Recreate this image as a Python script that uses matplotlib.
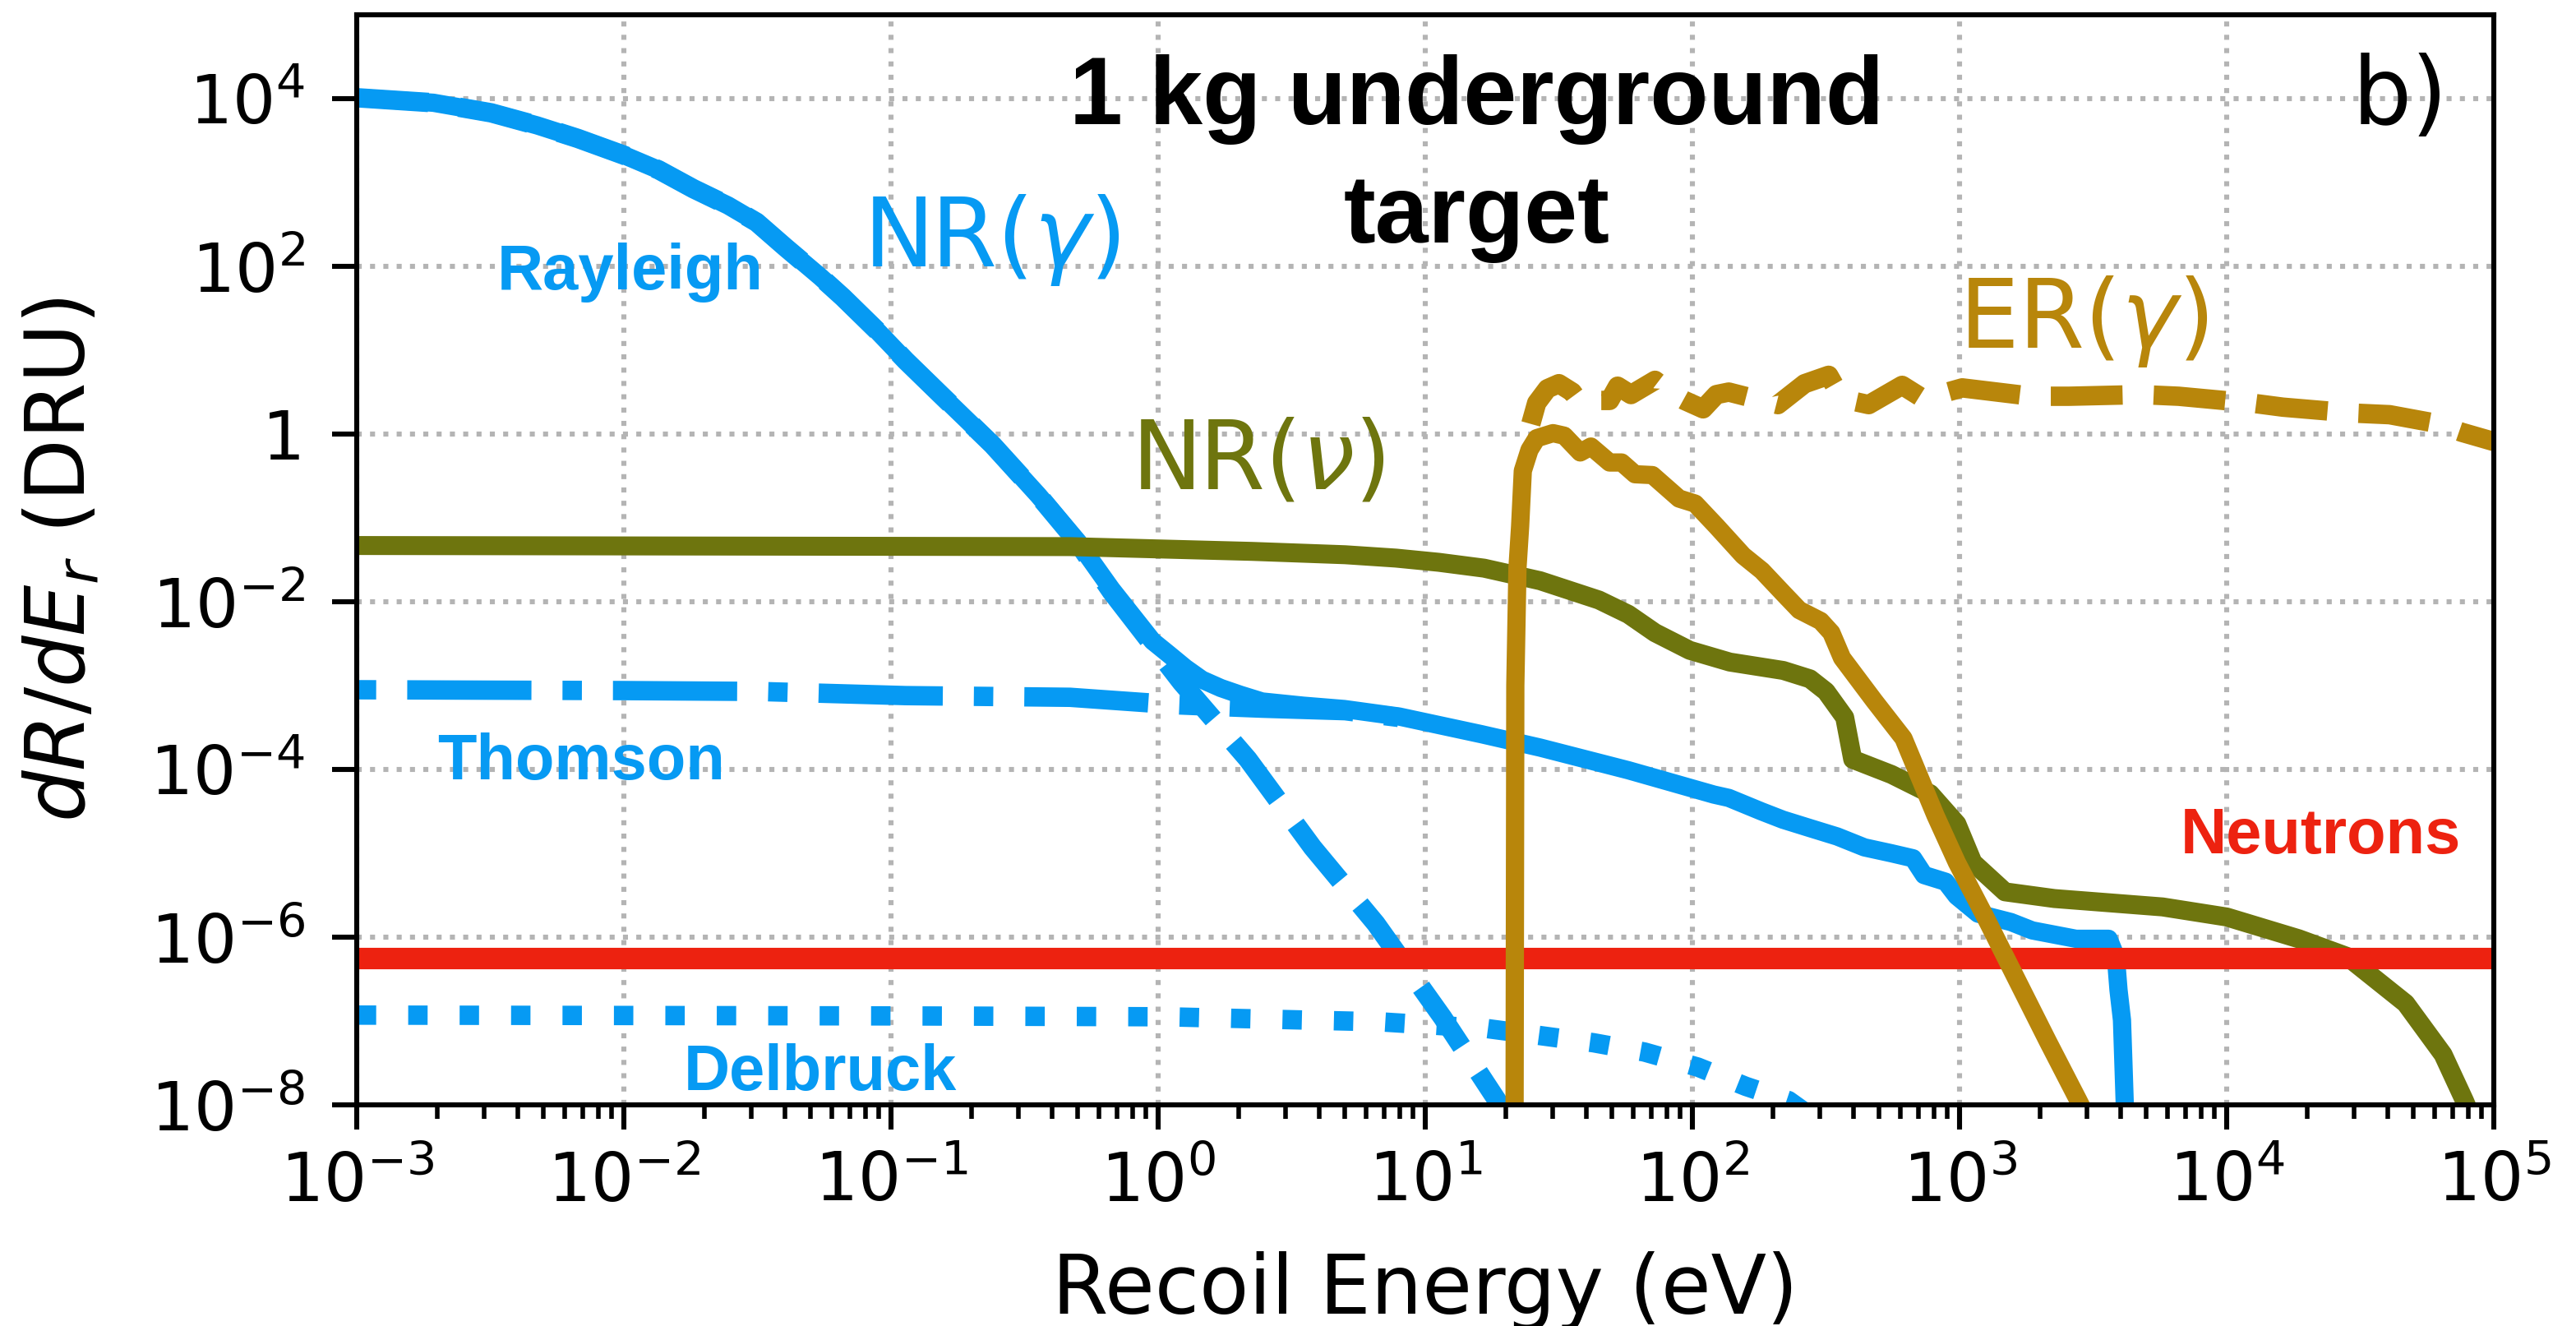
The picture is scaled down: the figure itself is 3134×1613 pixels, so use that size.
import matplotlib; matplotlib.use("Agg")
import matplotlib.pyplot as plt
import numpy as np
from matplotlib.ticker import NullLocator, LogLocator

BLUE, OLIVE, GOLD, RED = "#069AF3", "#6E750E", "#B8860B", "#ED2210"

# values, as log10(E / eV) and log10(dR/dEr / DRU)
ray_le = [-3.0, -2.713, -2.497, -2.325, -2.173, -2.0, -1.87, -1.74, -1.61, -1.503, -1.395,
          -1.265, -1.18, -1.05, -0.945, -0.816, -0.62, -0.449, -0.30, -0.175, 0.087, 0.336,
          0.578, 0.815, 1.065, 1.3]
ray_lr = [4.01, 3.95, 3.83, 3.68, 3.525, 3.325, 3.15, 2.925, 2.725, 2.525, 2.225,
          1.875, 1.63, 1.225, 0.875, 0.475, -0.13, -0.73, -1.30, -1.88, -2.96, -3.88,
          -4.93, -5.84, -6.96, -8.1]

tot_le = [-3.0, -2.713, -2.497, -2.325, -2.173, -2.0, -1.87, -1.74, -1.61, -1.503, -1.395,
          -1.265, -1.18, -1.05, -0.945, -0.816, -0.62, -0.449, -0.30, -0.175, -0.021, 0.041,
          0.102, 0.164, 0.235, 0.308, 0.389, 0.543, 0.697, 0.903, 1.21, 1.43, 1.76, 2.08,
          2.136, 2.258, 2.339, 2.44, 2.542, 2.644, 2.745, 2.826, 2.867, 2.948, 2.989, 3.069,
          3.192, 3.272, 3.436, 3.558, 3.585, 3.595, 3.608, 3.618, 3.621]
tot_lr = [4.01, 3.95, 3.83, 3.68, 3.525, 3.325, 3.15, 2.925, 2.725, 2.525, 2.225,
          1.875, 1.63, 1.225, 0.875, 0.475, -0.13, -0.73, -1.29, -1.85, -2.47, -2.63,
          -2.79, -2.93, -3.03, -3.11, -3.19, -3.24, -3.28, -3.37, -3.58, -3.74, -4.01, -4.30,
          -4.34, -4.50, -4.60, -4.70, -4.80, -4.93, -5.00, -5.06, -5.26, -5.34, -5.51, -5.72,
          -5.82, -5.92, -6.02, -6.02, -6.23, -6.63, -6.99, -7.95, -8.5]

thom_le = [-3.0, -2.0, -1.5, -0.945, -0.33, 0.07, 0.225, 0.39, 0.70, 0.90]
thom_lr = [-3.05, -3.06, -3.07, -3.12, -3.14, -3.23, -3.25, -3.27, -3.30, -3.38]

delb_le = [-3.0, -0.945, 0.03, 0.83, 1.03, 1.23, 1.42, 1.63, 1.82, 2.02, 2.20, 2.36, 2.47]
delb_lr = [-6.93, -6.94, -6.95, -7.01, -7.05, -7.09, -7.17, -7.26, -7.37, -7.55, -7.78, -7.95, -8.2]

nu_le = [-3.0, -0.945, -0.33, 0.352, 0.70, 0.89, 1.05, 1.22, 1.43, 1.65, 1.76, 1.86, 1.99,
         2.14, 2.34, 2.44, 2.50, 2.57, 2.60, 2.745, 2.89, 2.99, 3.05, 3.17, 3.355, 3.76, 4.0,
         4.27, 4.45, 4.67, 4.81, 4.89, 4.95]
nu_lr = [-1.33, -1.34, -1.343, -1.40, -1.44, -1.48, -1.53, -1.60, -1.75, -1.98, -2.15, -2.37,
         -2.58, -2.72, -2.82, -2.92, -3.07, -3.38, -3.88, -4.06, -4.29, -4.65, -5.11, -5.46,
         -5.54, -5.64, -5.76, -6.02, -6.23, -6.79, -7.40, -7.95, -8.4]

er_le = [1.334, 1.337, 1.345, 1.355, 1.365, 1.39, 1.417, 1.478, 1.52, 1.58, 1.62, 1.69,
         1.735, 1.785, 1.85, 1.95, 2.01, 2.09, 2.19, 2.26, 2.34, 2.40, 2.48, 2.52, 2.56,
         2.68, 2.79, 2.85, 2.91, 2.99, 3.09, 3.21, 3.33, 3.445, 3.5]
er_lr = [-8.5, -3.0, -1.6, -1.1, -0.44, -0.19, -0.05, 0.01, -0.02, -0.22, -0.15, -0.34,
         -0.34, -0.48, -0.49, -0.77, -0.83, -1.10, -1.45, -1.63, -1.90, -2.10, -2.23, -2.37, -2.67,
         -3.18, -3.63, -4.09, -4.55, -5.11, -5.72, -6.48, -7.24, -7.95, -8.3]

erd_le = [1.395, 1.417, 1.457, 1.50, 1.55, 1.58, 1.61, 1.69, 1.72, 1.77, 1.86, 1.93, 1.97,
          2.04, 2.09, 2.136, 2.32, 2.42, 2.51, 2.56, 2.66, 2.785, 2.865, 3.01, 3.27, 3.41,
          3.68, 3.82, 4.09, 4.21, 4.47, 4.61, 4.78, 4.88, 5.0]
erd_lr = [0.12, 0.37, 0.54, 0.60, 0.50, 0.37, 0.40, 0.40, 0.57, 0.47, 0.64, 0.47, 0.40,
          0.30, 0.47, 0.50, 0.35, 0.60, 0.70, 0.42, 0.35, 0.58, 0.42, 0.55, 0.45, 0.45,
          0.47, 0.45, 0.37, 0.32, 0.25, 0.23, 0.13, 0.02, -0.09]

neutron_rate = 5.6e-7

p = lambda v: 10.0 ** np.array(v)

fig = plt.figure(figsize=(15.67, 8.065), dpi=200)
ax = fig.add_axes([0.1385, 0.1668, 0.8296, 0.8221])
ax.set_xscale("log"); ax.set_yscale("log")

ax.plot(p(tot_le), p(tot_lr), color=BLUE, lw=8, solid_capstyle="butt")
ax.plot(p(ray_le), p(ray_lr), color=BLUE, lw=8.5, ls="--")
ax.plot(p(thom_le), p(thom_lr), color=BLUE, lw=8.5, ls=(8.0, (6.4, 1.6, 1.0, 1.6)))
ax.plot(p(delb_le), p(delb_lr), color=BLUE, lw=8.5, ls=":")
ax.plot(p(nu_le), p(nu_lr), color=OLIVE, lw=8.3)
ax.plot([1e-3, 1e5], [neutron_rate, neutron_rate], color=RED, lw=9.4)
ax.plot(p(er_le), p(er_lr), color=GOLD, lw=8)
ax.plot(p(erd_le), p(erd_lr), color=GOLD, lw=8.5, ls="--")

ax.set_xlim(1e-3, 1e5); ax.set_ylim(1e-8, 1e5)
ax.set_yticks([1e-8, 1e-6, 1e-4, 1e-2, 1, 1e2, 1e4])
ax.set_yticklabels([r"$10^{-8}$", r"$10^{-6}$", r"$10^{-4}$", r"$10^{-2}$", "1",
                    r"$10^{2}$", r"$10^{4}$"])
ax.yaxis.set_minor_locator(NullLocator())
ax.xaxis.set_major_locator(LogLocator(base=10, numticks=20))
ax.xaxis.set_minor_locator(LogLocator(base=10, subs=np.arange(2, 10), numticks=20))
ax.tick_params(which="major", length=10.8, width=2.2, labelsize=29.5)
ax.tick_params(axis="x", which="major", pad=9)
ax.tick_params(axis="y", which="major", pad=12)
ax.tick_params(which="minor", length=6.2, width=2)
for s in ax.spines.values(): s.set_linewidth(2.2)
ax.set_axisbelow(True)
ax.grid(True, which="major", ls=":", color="#b4b4b4", lw=2.2)

ax.set_xlabel("Recoil Energy (eV)", fontsize=35.5)
ax.set_ylabel(r"$dR/dE_r$ (DRU)", fontsize=35.5)
ax.xaxis.set_label_coords(0.5, -0.134)
ax.yaxis.set_label_coords(-0.119, 0.5)

bold = dict(family="Liberation Sans", fontweight="bold", fontsize=28, va="baseline", ha="center")
ax.text(1.054e-2, 53, "Rayleigh", color=BLUE, **bold)
ax.text(6.93e-3, 7.6e-5, "Thomson", color=BLUE, **bold)
ax.text(5.42e-2, 1.5e-8, "Delbruck", color=BLUE, **bold)
ax.text(2.25e4, 9.9e-6, "Neutrons", color=RED, **bold)

ax.text(0.0783, 100, r"NR($\gamma$)", color=BLUE, fontsize=41.5, va="baseline")
ax.text(0.79, 0.225, r"NR($\nu$)", color=OLIVE, fontsize=41.5, va="baseline")
ax.text(995, 10.8, r"ER($\gamma$)", color=GOLD, fontsize=41.5, va="baseline")
ax.text(2.94e4, 5.0e3, "b)", color="black", fontsize=41, va="baseline")
title = dict(family="Liberation Sans", fontweight="bold", fontsize=42, ha="center", va="baseline")
ax.text(15.6, 5.0e3, "1 kg underground", **title)
ax.text(15.6, 192, "target", **title)

fig.savefig("out.png", dpi=200)
